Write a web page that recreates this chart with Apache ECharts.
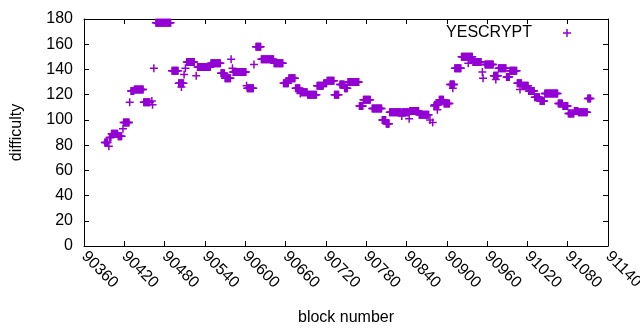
<!DOCTYPE html>
<html>
<head>
<meta charset="utf-8">
<script src="https://cdn.jsdelivr.net/npm/echarts@6/dist/echarts.min.js"></script>
<style>
  html, body { margin: 0; padding: 0; background: #fff; }
  #chart { width: 640px; height: 330px; }
</style>
</head>
<body>
<div id="chart"></div>
<script>
// runs of consecutive blocks sharing one difficulty value
var runStart = [90391, 90397, 90398, 90401, 90411, 90418, 90419, 90428, 90430, 90435,
                90449, 90461, 90462, 90464, 90467, 90491, 90501, 90505, 90509, 90511,
                90513, 90527, 90529, 90549, 90564, 90570, 90579, 90581, 90582, 90602,
                90603, 90613, 90616, 90624, 90643, 90657, 90665, 90675, 90682, 90683,
                90693, 90707, 90717, 90722, 90733, 90741, 90748, 90753, 90770, 90776,
                90789, 90804, 90810, 90815, 90833, 90834, 90844, 90845, 90859, 90875,
                90879, 90881, 90882, 90886, 90889, 90896, 90905, 90909, 90912, 90922,
                90932, 90939, 90953, 90954, 90957, 90970, 90973, 90977, 90989, 90994,
                91005, 91009, 91012, 91022, 91031, 91039, 91046, 91066, 91073, 91081,
                91090, 91096, 91110];
var runEnd   = [90395, 90397, 90400, 90410, 90416, 90418, 90427, 90428, 90434, 90448,
                90458, 90461, 90462, 90464, 90489, 90500, 90508, 90505, 90509, 90511,
                90524, 90527, 90548, 90563, 90569, 90578, 90579, 90581, 90601, 90602,
                90612, 90613, 90623, 90642, 90656, 90664, 90674, 90681, 90682, 90692,
                90706, 90716, 90721, 90732, 90739, 90747, 90752, 90769, 90775, 90786,
                90803, 90809, 90814, 90832, 90833, 90843, 90844, 90858, 90873, 90875,
                90879, 90881, 90888, 90886, 90895, 90904, 90911, 90909, 90921, 90938,
                90932, 90951, 90953, 90954, 90969, 90976, 90973, 90988, 90993, 91004,
                91011, 91009, 91021, 91030, 91038, 91045, 91065, 91072, 91080, 91089,
                91095, 91109, 91114];
var difficulty = [82, 79, 86, 89, 87, 93, 98, 114, 123, 124,
                  114, 115, 112, 141, 177, 139, 129, 126, 136, 141,
                  146, 135, 142, 145, 137, 133, 148, 141, 138, 127,
                  125, 144, 158, 148, 145, 129, 133, 125, 121, 122,
                  120, 127, 129, 131, 120, 128, 125, 130, 111, 116,
                  109, 100, 97, 106, 103, 106, 101, 107, 104, 100,
                  98, 111, 112, 108, 116, 113, 128, 125, 141, 150,
                  145, 146, 138, 133, 144, 135, 132, 141, 134, 139,
                  129, 124, 127, 123, 118, 115, 121, 113, 111, 105,
                  107, 106, 117];

var seriesName = 'YESCRYPT';
var xMin = 90360, xMax = 91140, xStep = 60;
var yMin = 0, yMax = 180, yStep = 20;

function init() {
    var points = [];
    for (var i = 0; i < runStart.length; i++) {
        for (var b = runStart[i]; b <= runEnd[i]; b++) {
            points.push([b, difficulty[i]]);
        }
    }

    var purple = '#9400d3';
    var font = 'Liberation Sans';
    var plus = 'path://M3.25,0H4.75V3.25H8V4.75H4.75V8H3.25V4.75H0V3.25H3.25Z';
    var line = { show: true, onZero: false, lineStyle: { color: '#000', width: 1 } };
    var tick = { show: true, inside: true, length: 5, lineStyle: { color: '#000' } };

    var chart = echarts.init(document.getElementById('chart'));
    chart.setOption({
        backgroundColor: '#fff',
        animation: false,
        grid: { left: 84, right: 32, top: 19, bottom: 84, outerBoundsMode: 'none', containLabel: false },
        legend: {
            data: [seriesName],
            top: 20,
            right: 64,
            align: 'right',
            itemWidth: 8,
            itemHeight: 8,
            icon: plus,
            textStyle: { fontFamily: font, fontSize: 16, color: '#000', padding: [0, 26, 0, 0] }
        },
        xAxis: [
            {
                type: 'value', position: 'bottom',
                min: xMin, max: xMax, interval: xStep,
                axisLine: line, axisTick: tick, splitLine: { show: false },
                axisLabel: {
                    rotate: -45, margin: 8, fontFamily: font, fontSize: 16, color: '#000',
                    formatter: function (v) { return String(v); }
                },
                name: 'block number', nameLocation: 'middle', nameGap: 64,
                nameTextStyle: { fontFamily: font, fontSize: 16, color: '#000' }
            },
            {
                type: 'value', position: 'top',
                min: xMin, max: xMax, interval: xStep,
                axisLine: line, axisTick: tick, splitLine: { show: false },
                axisLabel: { show: false }
            }
        ],
        yAxis: [
            {
                type: 'value', position: 'left',
                min: yMin, max: yMax, interval: yStep,
                axisLine: line, axisTick: tick, splitLine: { show: false },
                axisLabel: { margin: 11, fontFamily: font, fontSize: 16, color: '#000' },
                name: 'difficulty', nameLocation: 'middle', nameGap: 59, nameRotate: 90,
                nameTextStyle: { fontFamily: font, fontSize: 16, color: '#000' }
            },
            {
                type: 'value', position: 'right',
                min: yMin, max: yMax, interval: yStep,
                axisLine: line, axisTick: tick, splitLine: { show: false },
                axisLabel: { show: false }
            }
        ],
        series: [
            {
                name: seriesName,
                type: 'scatter',
                data: points,
                symbol: plus,
                symbolSize: 8,
                itemStyle: { color: purple, opacity: 1 },
                emphasis: { disabled: true }
            }
        ]
    });
}
document.addEventListener('DOMContentLoaded', init);
</script>
</body>
</html>
